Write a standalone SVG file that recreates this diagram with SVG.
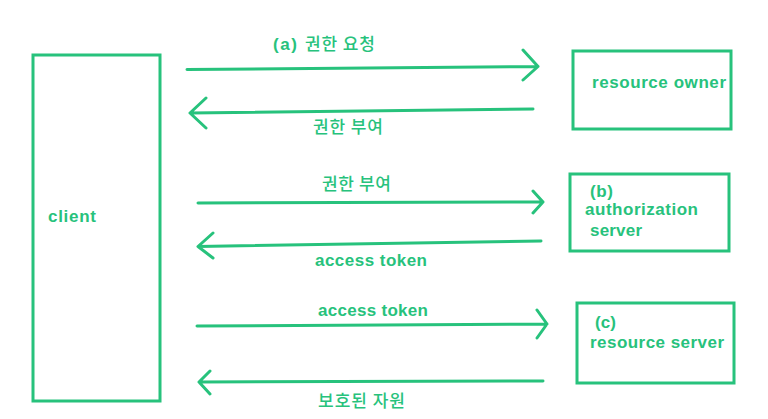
<svg xmlns="http://www.w3.org/2000/svg" width="768" height="419" viewBox="0 0 768 419">
<style>
.box{fill:none;stroke:#27c27c;stroke-width:3}
.ln{fill:none;stroke:#27c27c;stroke-width:3;stroke-linecap:round;stroke-linejoin:round}
.t{fill:#27c27c;font-family:"Liberation Sans","Noto Sans CJK KR",sans-serif;font-size:17px;font-weight:bold}
.k{fill:#27c27c;font-family:"Noto Sans CJK KR","Noto Sans",sans-serif;font-size:17px;font-weight:500}
</style>
<rect x="0" y="0" width="768" height="419" fill="#ffffff"/>
<g id="client">
<rect class="box" x="33" y="55" width="127" height="346"/>
<text class="t" x="48" y="222" textLength="48">client</text>
</g>
<g id="resource-owner">
<rect class="box" x="573" y="51" width="158" height="78"/>
<text class="t" x="592" y="88" textLength="134">resource owner</text>
</g>
<g id="authorization-server">
<rect class="box" x="570" y="174" width="159" height="77"/>
<text class="t" x="590" y="197" textLength="23">(b)</text>
<text class="t" x="585" y="215" textLength="113">authorization</text>
<text class="t" x="590" y="236" textLength="52">server</text>
</g>
<g id="resource-server">
<rect class="box" x="577" y="303" width="157" height="80"/>
<text class="t" x="595" y="328" textLength="21">(c)</text>
<text class="t" x="590" y="348" textLength="134">resource server</text>
</g>
<g id="connectors">
<path class="ln" d="M187 69.5 L538 66.5 M523 50 L538 66.5 L523 80"/>
<path class="ln" d="M533 109 L190 113 M206 98 L190 113 L206 128"/>
<path class="ln" d="M198 203 L543 202 M533 191 L543 202 L533 213"/>
<path class="ln" d="M541 241 L198 246.5 M213 233 L198 246.5 L213 258"/>
<path class="ln" d="M197 326 L547 324 M537 310 L547 324 L537 338"/>
<path class="ln" d="M543 381 L199 382 M210 371 L199 382 L210 394"/>
<text class="t" x="273" y="50" textLength="24">(a)</text>
<text class="k" x="305" y="50" textLength="70">권한 요청</text>
<text class="k" x="313" y="133" textLength="70">권한 부여</text>
<text class="k" x="322" y="190" textLength="69">권한 부여</text>
<text class="t" x="315" y="266" textLength="112">access token</text>
<text class="t" x="318" y="316" textLength="110">access token</text>
<text class="k" x="318" y="407" textLength="87">보호된 자원</text>
</g>
</svg>
